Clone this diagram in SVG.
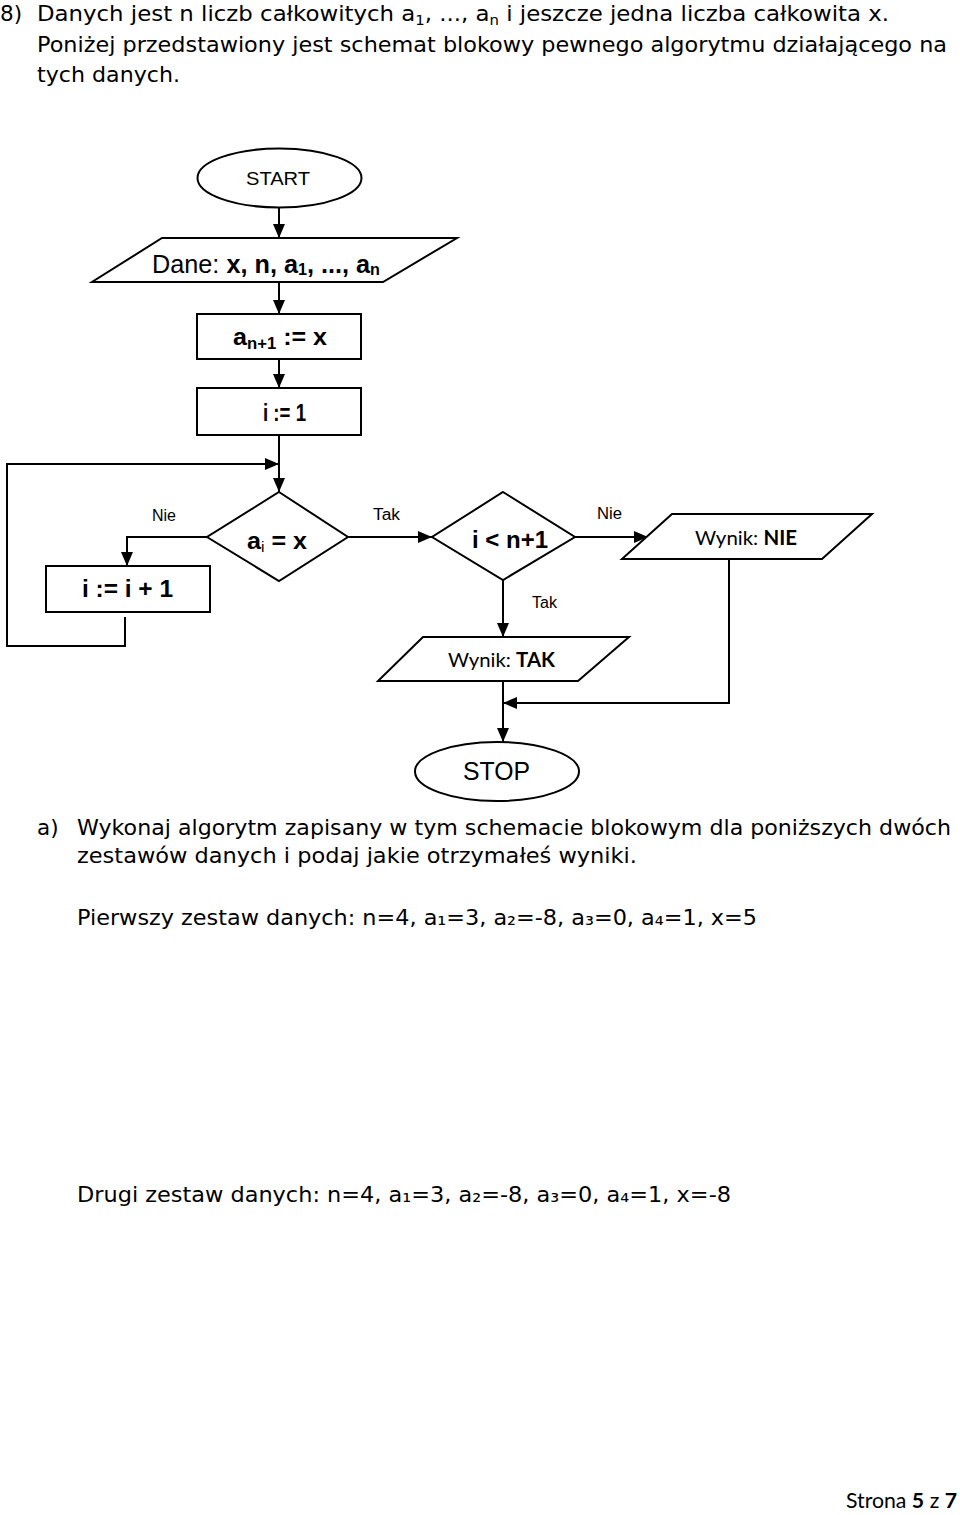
<svg xmlns="http://www.w3.org/2000/svg" width="960" height="1515" viewBox="0 0 960 1515">
<style>
.ln{fill:none;stroke:#000;stroke-width:2}
.shp{fill:#fff;stroke:#000;stroke-width:2}
.t{font-family:"DejaVu Sans",Verdana,sans-serif;font-size:21.5px;fill:#000}
.f{font-family:"Liberation Sans",Arial,sans-serif;fill:#000}
.b{font-weight:bold}
.c{font-family:Lato,"Liberation Sans",sans-serif;fill:#000}
.lab{font-family:"Liberation Sans",Arial,sans-serif;font-size:16px;fill:#000}
</style>
<defs>
<marker id="arr" markerUnits="userSpaceOnUse" markerWidth="15" markerHeight="13" refX="14" refY="6" orient="auto">
<path d="M0,0 L14,6 L0,12 z" fill="#000"/>
</marker>
</defs>
<rect width="960" height="1515" fill="#fff"/>

<g id="intro">
<text class="t" x="0" y="21">8)</text>
<text class="t" x="37" y="21" textLength="852" lengthAdjust="spacingAndGlyphs">Danych jest n liczb całkowitych a<tspan font-size="14" dy="4">1</tspan><tspan dy="-4">, ..., a</tspan><tspan font-size="14" dy="4">n</tspan><tspan dy="-4"> i jeszcze jedna liczba całkowita x.</tspan></text>
<text class="t" x="37" y="52" textLength="910" lengthAdjust="spacingAndGlyphs">Poniżej przedstawiony jest schemat blokowy pewnego algorytmu działającego na</text>
<text class="t" x="37" y="82" textLength="143" lengthAdjust="spacingAndGlyphs">tych danych.</text>
</g>

<g id="connectors">
<path class="ln" d="M279,208 V238" marker-end="url(#arr)"/>
<path class="ln" d="M279,282 V314" marker-end="url(#arr)"/>
<path class="ln" d="M279,359 V388" marker-end="url(#arr)"/>
<path class="ln" d="M279,435 V492" marker-end="url(#arr)"/>
<path class="ln" d="M125,617 V646 H7 V464 H279" marker-end="url(#arr)"/>
<path class="ln" d="M207,537 H127 V566" marker-end="url(#arr)"/>
<path class="ln" d="M348,537 H432" marker-end="url(#arr)"/>
<path class="ln" d="M575,537 H648" marker-end="url(#arr)"/>
<path class="ln" d="M503,580 V637" marker-end="url(#arr)"/>
<path class="ln" d="M729,559 V703 H503" marker-end="url(#arr)"/>
<path class="ln" d="M503,681 V742" marker-end="url(#arr)"/>
<text class="lab" x="152" y="521" textLength="24" lengthAdjust="spacingAndGlyphs">Nie</text>
<text class="lab" x="373" y="520" textLength="27" lengthAdjust="spacingAndGlyphs">Tak</text>
<text class="lab" x="597" y="519" textLength="25" lengthAdjust="spacingAndGlyphs">Nie</text>
<text class="lab" x="532" y="608" textLength="25" lengthAdjust="spacingAndGlyphs">Tak</text>
</g>

<g id="start">
<ellipse class="shp" cx="279.5" cy="178" rx="82" ry="29.5"/>
<text class="f" x="246" y="184.5" font-size="19" textLength="64" lengthAdjust="spacingAndGlyphs">START</text>
</g>

<g id="input">
<polygon class="shp" points="162,238 457,238 383,282 92,282"/>
<text class="f" x="152" y="273" font-size="25" textLength="228" lengthAdjust="spacingAndGlyphs">Dane: <tspan class="b">x, n, a</tspan><tspan class="b" font-size="16" dy="2">1</tspan><tspan class="b" dy="-2">, ..., a</tspan><tspan class="b" font-size="16" dy="2">n</tspan></text>
</g>

<g id="assign-an1">
<rect class="shp" x="197" y="314" width="164" height="45"/>
<text class="f b" x="233" y="345" font-size="24" textLength="94" lengthAdjust="spacingAndGlyphs">a<tspan font-size="16" dy="4">n+1</tspan><tspan dy="-4"> := x</tspan></text>
</g>

<g id="assign-i1">
<rect class="shp" x="197" y="388" width="164" height="47"/>
<text class="f b" x="263" y="421" font-size="23" textLength="43" lengthAdjust="spacingAndGlyphs">i := 1</text>
</g>

<g id="cond-ai">
<polygon class="shp" points="279,492 348,537 279,581 207,537"/>
<text class="f b" x="247" y="549" font-size="24" textLength="60" lengthAdjust="spacingAndGlyphs">a<tspan font-size="15" font-weight="normal" dy="3">i</tspan><tspan dy="-3"> = x</tspan></text>
</g>

<g id="inc-i">
<rect class="shp" x="46" y="566" width="164" height="46"/>
<text class="f b" x="82" y="597" font-size="23" textLength="91" lengthAdjust="spacingAndGlyphs">i := i + 1</text>
</g>

<g id="cond-n">
<polygon class="shp" points="503,492 575,537 503,580 432,537"/>
<text class="f b" x="472" y="548" font-size="23" textLength="76" lengthAdjust="spacingAndGlyphs">i &lt; n+1</text>
</g>

<g id="out-nie">
<polygon class="shp" points="672,514 872,514 822,559 622,559"/>
<text class="c" x="695" y="545" font-size="20" textLength="102" lengthAdjust="spacingAndGlyphs">Wynik: <tspan class="b">NIE</tspan></text>
</g>

<g id="out-tak">
<polygon class="shp" points="423,637 629,637 578,681 378,681"/>
<text class="c" x="448" y="667" font-size="20" textLength="107" lengthAdjust="spacingAndGlyphs">Wynik: <tspan class="b">TAK</tspan></text>
</g>

<g id="stop">
<ellipse class="shp" cx="497" cy="771.5" rx="82" ry="29.5"/>
<text class="f" x="463" y="780" font-size="26" textLength="67" lengthAdjust="spacingAndGlyphs">STOP</text>
</g>

<g id="task">
<text class="t" x="37" y="835">a)</text>
<text class="t" x="77" y="835" textLength="874" lengthAdjust="spacingAndGlyphs">Wykonaj algorytm zapisany w tym schemacie blokowym dla poniższych dwóch</text>
<text class="t" x="77" y="863" textLength="560" lengthAdjust="spacingAndGlyphs">zestawów danych i podaj jakie otrzymałeś wyniki.</text>
<text class="t" x="77" y="925" textLength="680" lengthAdjust="spacingAndGlyphs">Pierwszy zestaw danych: n=4, a₁=3, a₂=-8, a₃=0, a₄=1, x=5</text>
<text class="t" x="77" y="1202" textLength="654" lengthAdjust="spacingAndGlyphs">Drugi zestaw danych: n=4, a₁=3, a₂=-8, a₃=0, a₄=1, x=-8</text>
</g>

<g id="footer">
<text class="c" x="846" y="1508" font-size="21" textLength="111" lengthAdjust="spacingAndGlyphs">Strona <tspan class="b">5</tspan> z <tspan class="b">7</tspan></text>
</g>
</svg>
